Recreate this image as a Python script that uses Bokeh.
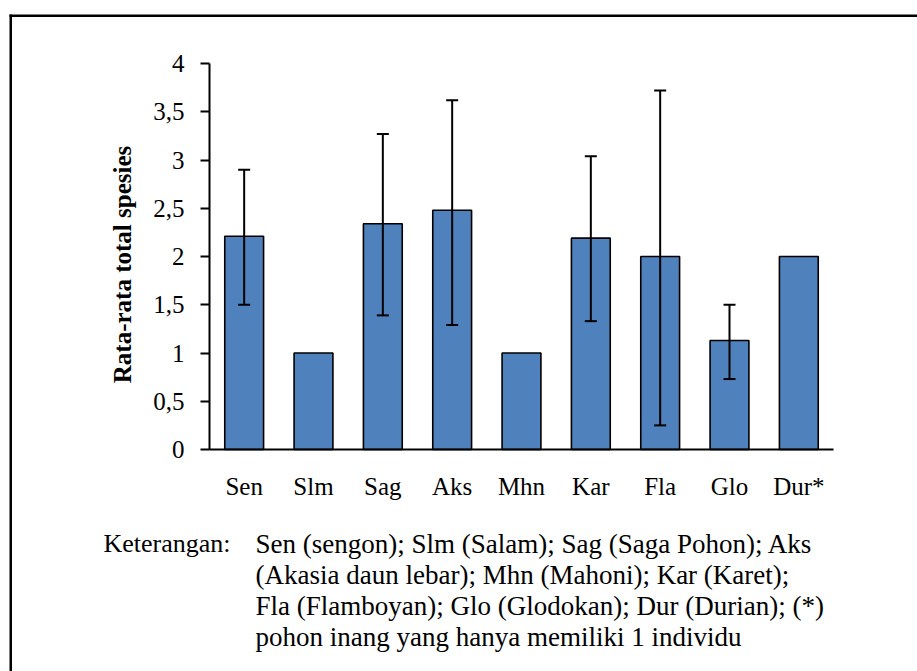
import math
from bokeh.plotting import figure
from bokeh.models import (ColumnDataSource, Whisker, TeeHead, FixedTicker, Label,
                          BoxAnnotation, Range1d)
from bokeh.embed import file_html
from bokeh.resources import INLINE

# ---------------- data ----------------
categories = ["Sen", "Slm", "Sag", "Aks", "Mhn", "Kar", "Fla", "Glo", "Dur*"]
means = [2.21, 1.0, 2.34, 2.48, 1.0, 2.19, 2.0, 1.13, 2.0]

err_categories = ["Sen", "Sag", "Aks", "Kar", "Fla", "Glo"]
err_upper = [2.90, 3.27, 3.62, 3.04, 3.72, 1.50]
err_lower = [1.50, 1.39, 1.29, 1.33, 0.25, 0.73]

y_ticks = [0, 0.5, 1, 1.5, 2, 2.5, 3, 3.5, 4]
y_tick_labels = ["0", "0,5", "1", "1,5", "2", "2,5", "3", "3,5", "4"]

y_axis_title = "Rata-rata total spesies"
caption_head = "Keterangan:"
caption_lines = [
    "Sen (sengon); Slm (Salam); Sag (Saga Pohon); Aks",
    "(Akasia daun lebar); Mhn (Mahoni); Kar (Karet);",
    "Fla (Flamboyan); Glo (Glodokan); Dur (Durian); (*)",
    "pohon inang yang hanya memiliki 1 individu",
]

FONT = "Liberation Serif"
BAR_COLOR = "#4F81BD"

# ---------------- layout (pixels) ----------------
W, H = 917, 671
AX_LEFT, AX_RIGHT = 209, 833      # x-axis extent in pixels
AX_BOTTOM, AX_TOP = 449, 63       # y = 0 and y = 4 in pixels
n = len(categories)
px_per_cat = (AX_RIGHT - AX_LEFT) / n
px_per_unit = (AX_BOTTOM - AX_TOP) / 4.0

x0 = -AX_LEFT / px_per_cat
y1 = 4 + AX_TOP / px_per_unit
x_range = Range1d(x0, (W - AX_LEFT) / px_per_cat)
y_range = Range1d(-(H - AX_BOTTOM) / px_per_unit, y1)


def px_x(px):
    return x0 + px / px_per_cat


def px_y(py):
    return y1 - py / px_per_unit


p = figure(width=W, height=H, x_range=x_range, y_range=y_range,
           output_backend="svg", toolbar_location=None,
           min_border=0, min_border_left=0, min_border_right=0,
           min_border_top=0, min_border_bottom=0)
p.background_fill_color = "white"
p.border_fill_color = "white"
p.outline_line_color = None
p.xgrid.visible = False
p.ygrid.visible = False

# outer frame of the figure box (left and top edges only are visible)
p.quad(left=[px_x(9), px_x(9)], right=[px_x(11.5), px_x(W + 40)],
       top=[px_y(14), px_y(14)], bottom=[px_y(H + 40), px_y(16.5)],
       fill_color="black", line_color=None)

xpos = [i + 0.5 for i in range(n)]
src = ColumnDataSource(dict(x=xpos, cat=categories, mean=means))
p.vbar(x="x", top="mean", width=0.56, source=src,
       fill_color=BAR_COLOR, line_color="black", line_width=1.6)

err_x = [categories.index(c) + 0.5 for c in err_categories]
esrc = ColumnDataSource(dict(x=err_x, upper=err_upper, lower=err_lower))
w = Whisker(base="x", upper="upper", lower="lower", source=esrc,
            line_color="black", line_width=2, level="annotation",
            upper_head=TeeHead(size=12, line_width=2, line_color="black"),
            lower_head=TeeHead(size=12, line_width=2, line_color="black"))
p.add_layout(w)

# axes drawn at fixed data locations
xa = p.xaxis[0]
xa.fixed_location = 0
xa.bounds = (0, n)
xa.ticker = FixedTicker(ticks=xpos)
xa.major_label_overrides = {x: c for x, c in zip(xpos, categories)}
xa.axis_line_width = 2
xa.axis_line_color = "black"
xa.major_tick_out = 0
xa.major_tick_in = 0
xa.minor_tick_out = 0
xa.minor_tick_in = 0
xa.major_label_text_font = FONT
xa.major_label_text_font_size = "25px"
xa.major_label_text_color = "black"
xa.major_label_standoff = 23

ya = p.yaxis[0]
ya.fixed_location = 0
ya.bounds = (0, 4)
ya.ticker = FixedTicker(ticks=y_ticks)
ya.major_label_overrides = {float(t): l for t, l in zip(y_ticks, y_tick_labels)}
ya.axis_line_width = 2
ya.axis_line_color = "black"
ya.major_tick_out = 9
ya.major_tick_in = 0
ya.major_tick_line_width = 2
ya.minor_tick_out = 0
ya.minor_tick_in = 0
ya.major_label_text_font = FONT
ya.major_label_text_font_size = "25px"
ya.major_label_text_color = "black"
ya.major_label_standoff = 16

# y-axis title
p.add_layout(Label(x=122, y=H - 264, x_units="screen", y_units="screen",
                   text=y_axis_title, angle=math.pi / 2,
                   text_font=FONT, text_font_style="bold", text_font_size="25px",
                   text_color="black", text_align="center", text_baseline="middle"))

# caption
p.add_layout(Label(x=103, y=H - 543, x_units="screen", y_units="screen",
                   text=caption_head, text_font=FONT, text_font_size="26px",
                   text_color="black", text_baseline="middle"))
for i, line in enumerate(caption_lines):
    p.add_layout(Label(x=255, y=H - (543 + 31 * i),
                       x_units="screen", y_units="screen",
                       text=line, text_font=FONT, text_font_size="27px",
                       text_color="black", text_baseline="middle"))

# white cover along the right canvas edge, below the top border
p.add_layout(BoxAnnotation(left=W - 14, right=W + 10, top=H - 17.5, bottom=-10,
                           left_units="screen", right_units="screen",
                           top_units="screen", bottom_units="screen",
                           fill_color="white", fill_alpha=1,
                           line_color=None, line_alpha=0, level="overlay"))

open("out.html", "w").write(file_html(p, INLINE))
